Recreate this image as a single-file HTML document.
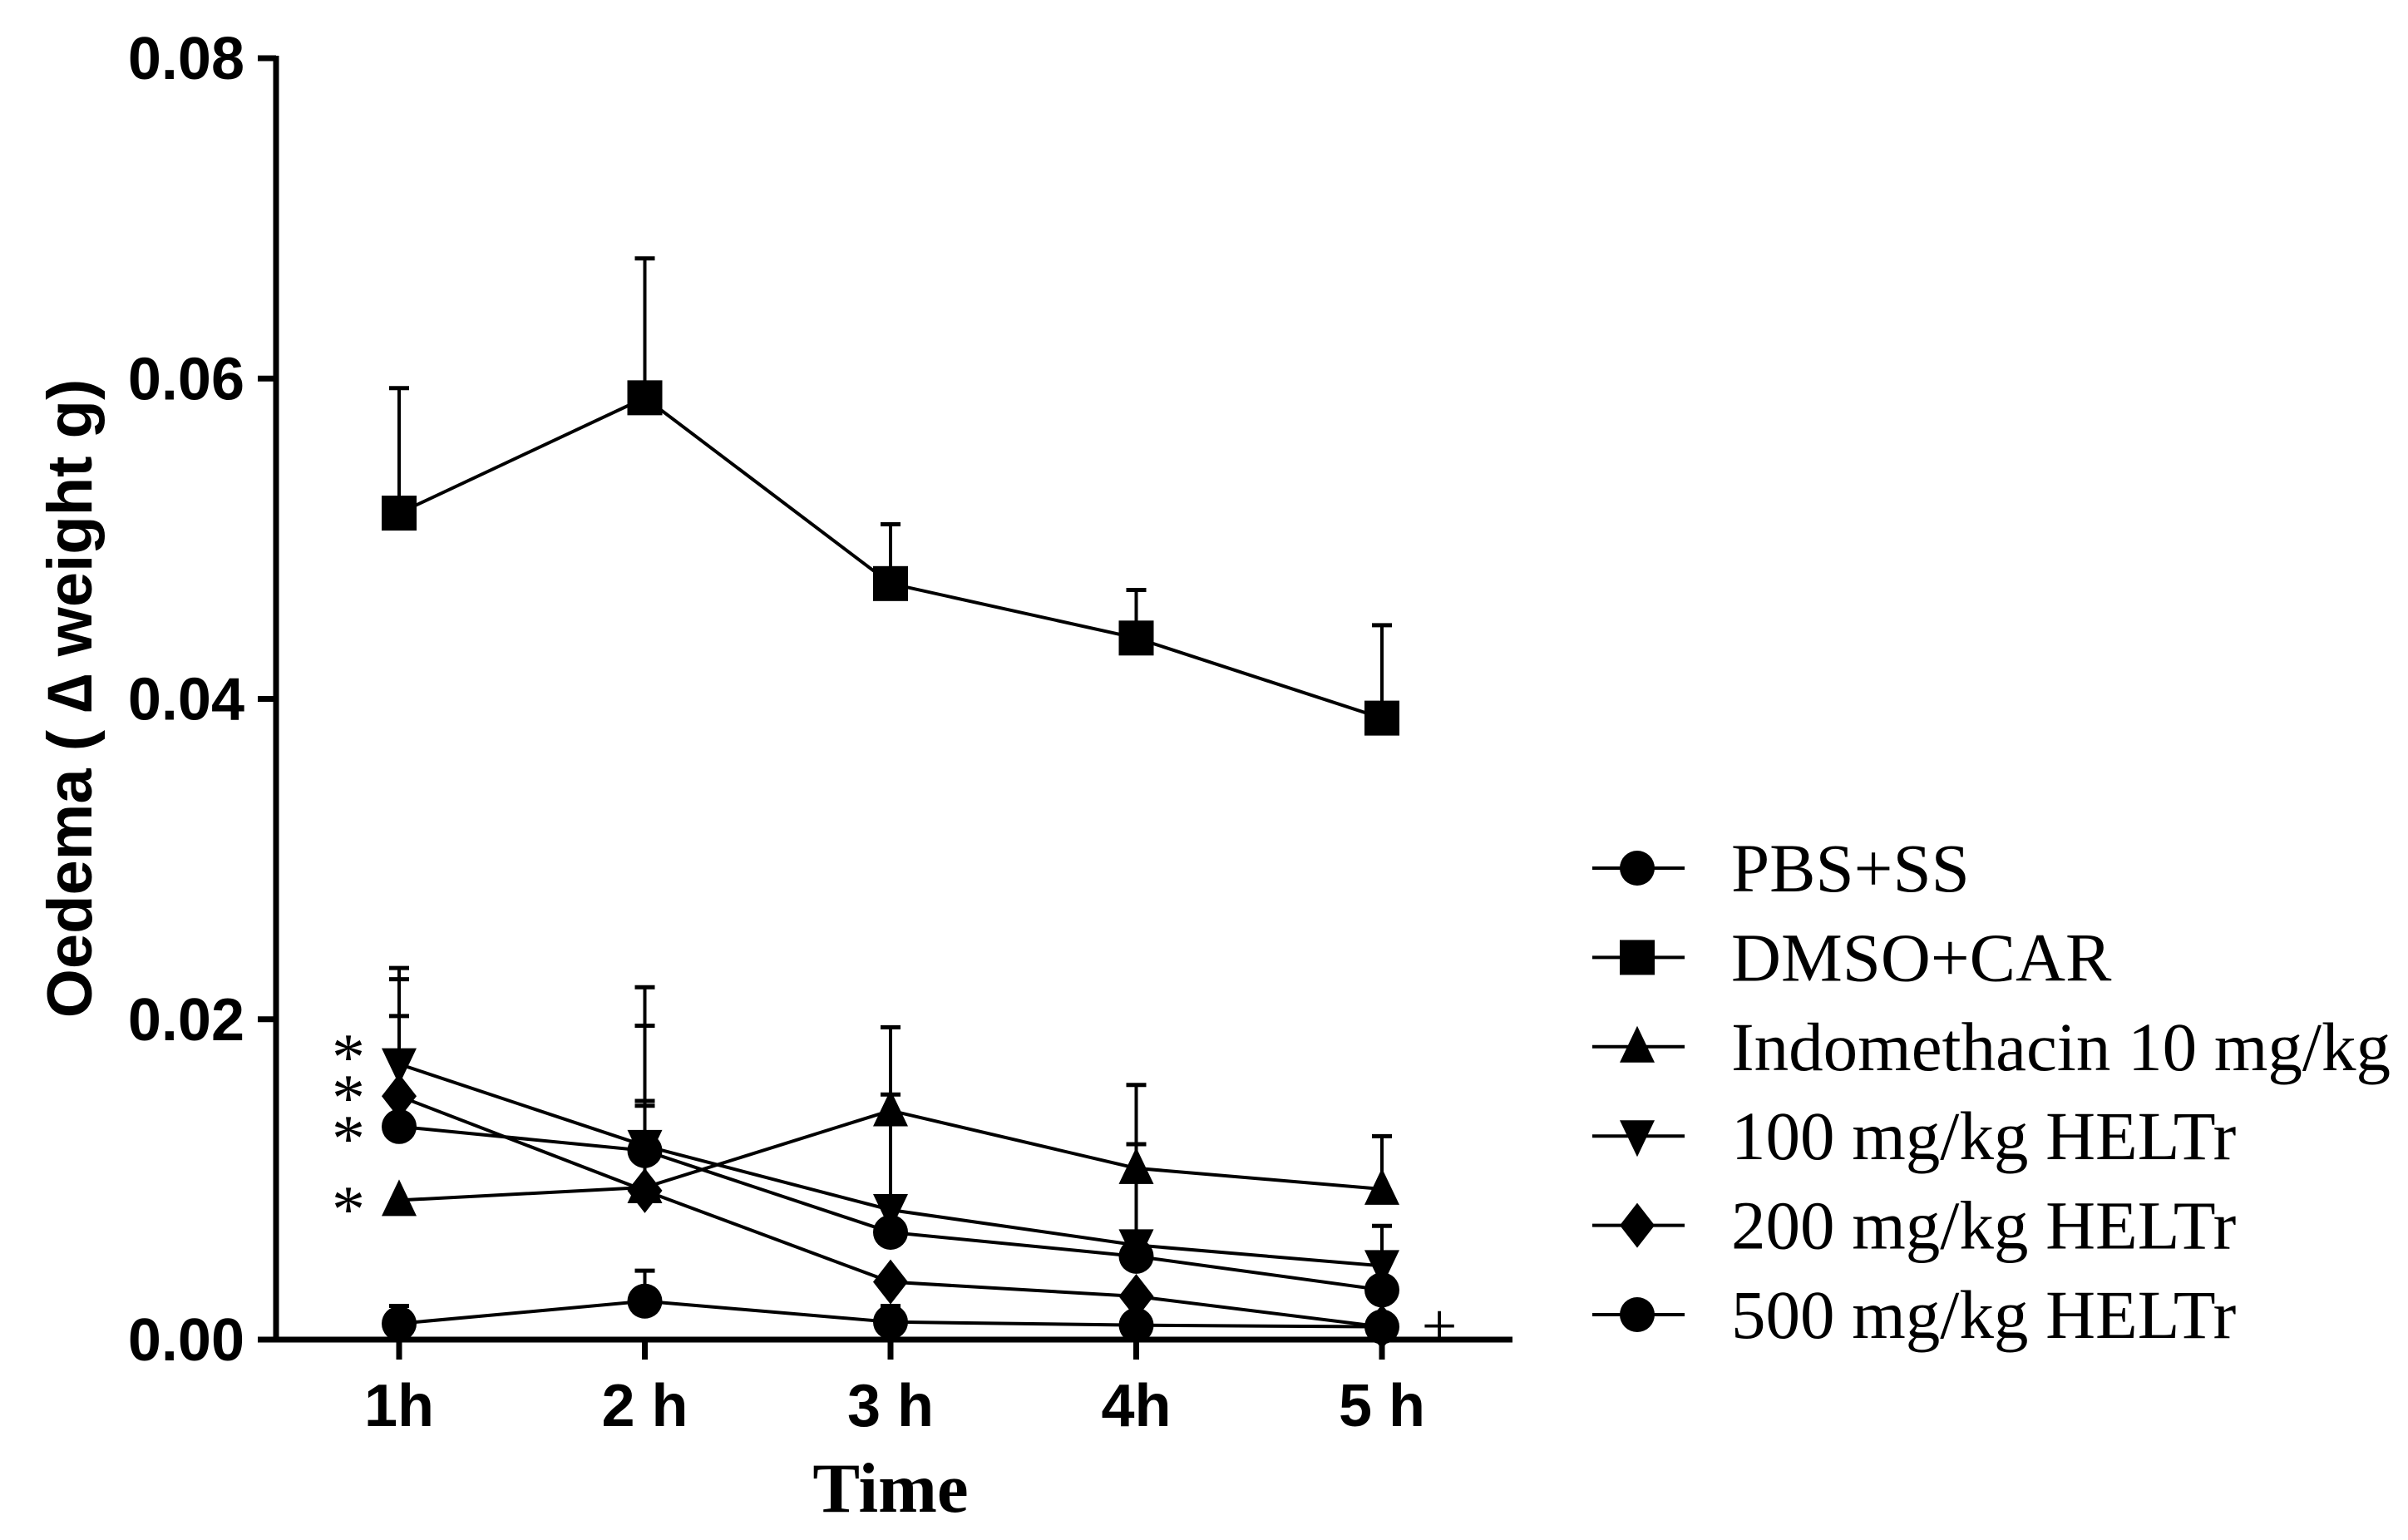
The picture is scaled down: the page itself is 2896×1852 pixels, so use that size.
<!DOCTYPE html>
<html><head><meta charset="utf-8"><style>html,body{margin:0;padding:0;background:#fff}svg{display:block}</style></head>
<body>
<svg id="chart" width="2896" height="1852" viewBox="0 0 2896 1852" xmlns="http://www.w3.org/2000/svg">
<g id="axes"></g>
<g id="plot"></g>
<g id="legend"></g>
<text transform="translate(110,840) rotate(-90)" text-anchor="middle" font-family="Liberation Sans, sans-serif" font-weight="bold" font-size="76">Oedema ( ∆ weight g)</text>
<text x="1071" y="1818" text-anchor="middle" font-family="Liberation Serif, serif" font-weight="bold" font-size="85">Time</text>
<text x="419" y="1298" text-anchor="middle" font-family="Liberation Serif, serif" font-size="80">*</text>
<text x="419" y="1347" text-anchor="middle" font-family="Liberation Serif, serif" font-size="80">*</text>
<text x="419" y="1396" text-anchor="middle" font-family="Liberation Serif, serif" font-size="80">*</text>
<text x="419" y="1481" text-anchor="middle" font-family="Liberation Serif, serif" font-size="80">*</text>
<text x="1731" y="1620" text-anchor="middle" font-family="Liberation Serif, serif" font-size="76">+</text>
</svg>
<script>
const categories = ['1h','2 h','3 h','4h','5 h'];
const yTicks = [0, 0.02, 0.04, 0.06, 0.08];
const yTickLabels = ['0.00','0.02','0.04','0.06','0.08'];
const seriesNames = ['PBS+SS','DMSO+CAR','Indomethacin 10 mg/kg','100 mg/kg HELTr','200 mg/kg HELTr','500 mg/kg HELTr'];
const pbsValues = [0.0010, 0.0024, 0.0011, 0.0009, 0.0008];
const pbsErrTop = [0.0021, 0.0043, 0.0021, null, null];
const dmsoValues = [0.0516, 0.0588, 0.0472, 0.0438, 0.0388];
const dmsoErrTop = [0.0594, 0.0675, 0.0509, 0.0468, 0.0446];
const indoValues = [0.0087, 0.0095, 0.0143, 0.0107, 0.0094];
const indoErrTop = [null, 0.0149, 0.0195, 0.0159, 0.0127];
const h100Values = [0.0172, 0.0121, 0.0081, 0.0059, 0.0046];
const h100ErrTop = [0.0232, 0.0220, 0.0153, 0.0122, 0.0071];
const h200Values = [0.0152, 0.0093, 0.0036, 0.0027, 0.0008];
const h200ErrTop = [0.0225, 0.0146, null, null, null];
const h500Values = [0.0133, 0.0118, 0.0067, 0.0052, 0.0031];
const h500ErrTop = [0.0202, 0.0196, null, null, null];

const NS='http://www.w3.org/2000/svg';
const X0=332, Y0=1611, Ytop=70, XEND=1819, XSTART=480, XSTEP=295.5;
function xScale(i){return XSTART+i*XSTEP;}
function yScale(v){return Y0-(v/0.08)*(Y0-Ytop);}
function mk(tag,attrs,parent){const e=document.createElementNS(NS,tag);for(const k in attrs)e.setAttribute(k,attrs[k]);parent.appendChild(e);return e;}
const axes=document.getElementById('axes'), plot=document.getElementById('plot'), legend=document.getElementById('legend');

let el=mk('line',{x1:X0,y1:Ytop-3,x2:X0,y2:Y0+3,stroke:'#000','stroke-width':7},axes);


el=mk('line',{x1:X0-3,y1:Y0,x2:XEND,y2:Y0,stroke:'#000','stroke-width':7},axes);


yTicks.forEach((t,i)=>{
  const y=yScale(t);
  let tk=mk('line',{x1:X0-22,y1:y,x2:X0,y2:y,stroke:'#000','stroke-width':7},axes);
  
  
  let tx=mk('text',{x:294,y:y+25,'text-anchor':'end','font-family':'Liberation Sans, sans-serif','font-weight':'bold','font-size':72},axes);
  tx.textContent=yTickLabels[i];
  
  
});
categories.forEach((c,i)=>{
  const x=xScale(i);
  let tk=mk('line',{x1:x,y1:Y0,x2:x,y2:Y0+24,stroke:'#000','stroke-width':7},axes);
  
  
  let tx=mk('text',{x:x,y:1715,'text-anchor':'middle','font-family':'Liberation Sans, sans-serif','font-weight':'bold','font-size':72},axes);
  tx.textContent=c;
  
  
});

function marker(shape,x,y,parent){
  let m;
  if(shape==='circle') m=mk('circle',{cx:x,cy:y,r:21,fill:'#000'},parent);
  else if(shape==='square') m=mk('rect',{x:x-21,y:y-21,width:42,height:42,fill:'#000'},parent);
  else if(shape==='up') m=mk('polygon',{points:`${x},${y-25} ${x-21},${y+19} ${x+21},${y+19}`,fill:'#000'},parent);
  else if(shape==='down') m=mk('polygon',{points:`${x},${y+25} ${x-21},${y-19} ${x+21},${y-19}`,fill:'#000'},parent);
  else m=mk('polygon',{points:`${x},${y-27} ${x-21},${y} ${x},${y+27} ${x+21},${y}`,fill:'#000'},parent);
  return m;
}
const series=[
  {name:seriesNames[0],vals:pbsValues,err:pbsErrTop,shape:'circle',id:'pbs'},
  {name:seriesNames[1],vals:dmsoValues,err:dmsoErrTop,shape:'square',id:'dmso'},
  {name:seriesNames[2],vals:indoValues,err:indoErrTop,shape:'up',id:'indomethacin'},
  {name:seriesNames[3],vals:h100Values,err:h100ErrTop,shape:'down',id:'heltr-100'},
  {name:seriesNames[4],vals:h200Values,err:h200ErrTop,shape:'diamond',id:'heltr-200'},
  {name:seriesNames[5],vals:h500Values,err:h500ErrTop,shape:'circle',id:'heltr-500'}
];
series.forEach((s,si)=>{
  const g=mk('g',{},plot);
  
  
  s.vals.forEach((v,i)=>{
    if(s.err[i]!=null){
      const x=xScale(i);
      let e=mk('line',{x1:x,y1:yScale(v),x2:x,y2:yScale(s.err[i]),stroke:'#000','stroke-width':4},g);
      
      
      let c=mk('line',{x1:x-12,y1:yScale(s.err[i]),x2:x+12,y2:yScale(s.err[i]),stroke:'#000','stroke-width':5},g);
      
      
    }
  });
  const pts=s.vals.map((v,i)=>xScale(i)+','+yScale(v)).join(' ');
  let pl=mk('polyline',{points:pts,fill:'none',stroke:'#000','stroke-width':4},g);
  
  
  s.vals.forEach((v,i)=>{
    let m=marker(s.shape,xScale(i),yScale(v),g);
    
    
  });
  const ly=1044+si*107.4;
  const lg=mk('g',{},legend);
  
  
  mk('line',{x1:1915,y1:ly,x2:2026,y2:ly,stroke:'#000','stroke-width':4},lg);
  marker(s.shape,1969,ly,lg);
  let t=mk('text',{x:2082,y:ly+28,'font-family':'Liberation Serif, serif','font-size':83},lg);
  t.textContent=s.name;
});
</script>
</body></html>
